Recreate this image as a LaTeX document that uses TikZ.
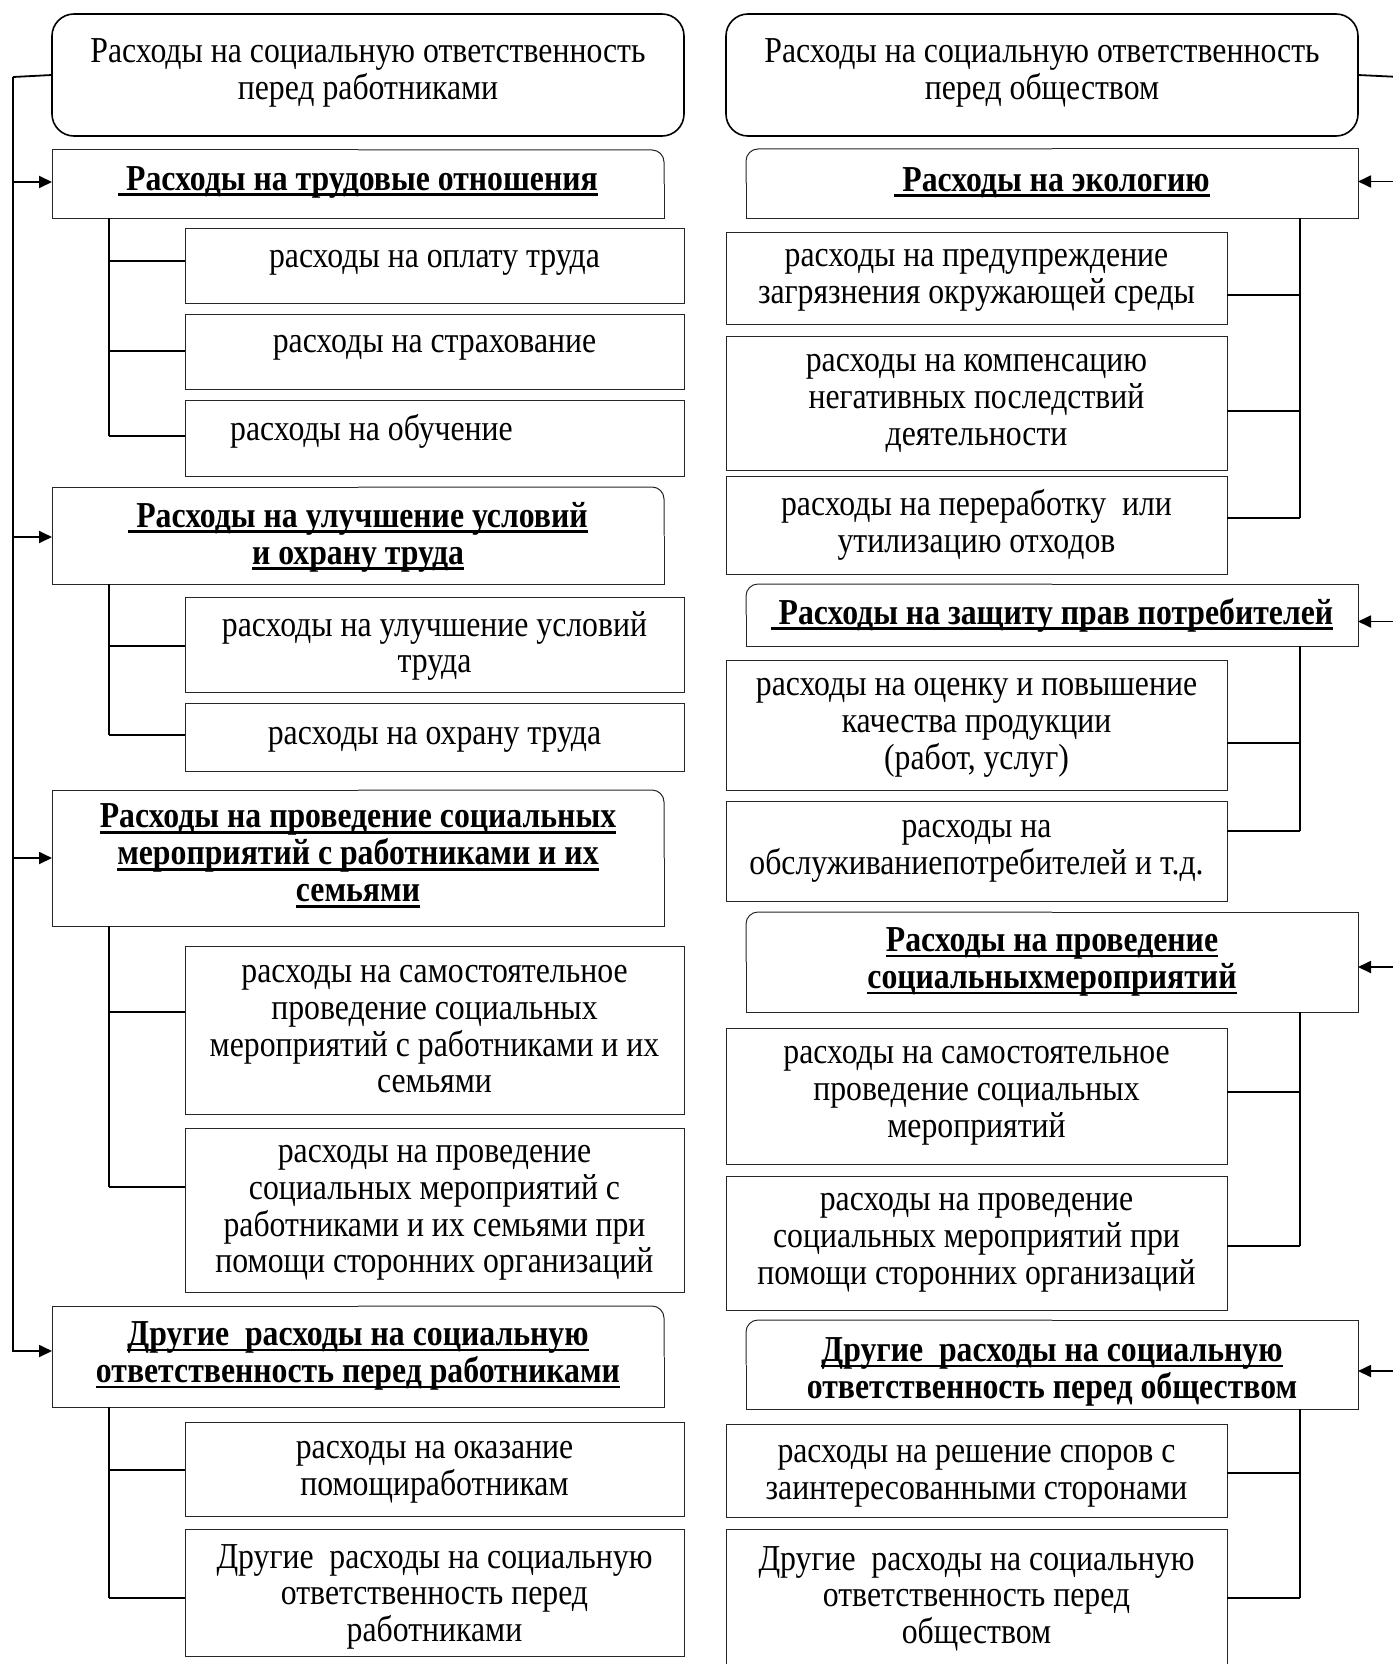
\documentclass[tikz,border=0pt]{standalone}
\usepackage{fontspec}
\setmainfont{Liberation Serif}[FakeStretch=0.87]
\usetikzlibrary{arrows.meta,calc}
\lineskiplimit=-100pt
\newcommand\myul[1]{\setbox0=\hbox{#1}\rlap{\rule[-6pt]{\wd0}{2.8pt}}\box0}
\tikzset{
  frame/.style={draw=black!85, line width=1pt, inner sep=0pt, outer sep=0pt},
  boxline/.style={draw=black!85, line width=1pt},
  txt/.style={align=center, inner sep=0pt,
    font=\fontsize{36.5pt}{36.8pt}\selectfont,
    execute at begin node=\rule{0pt}{24.5pt},
    execute at end node=\rule[-8pt]{0pt}{8pt}},
  htxt/.style={txt, font=\fontsize{36.5pt}{37pt}\selectfont\bfseries},
  conn/.style={line width=1.8pt, black},
  arr/.style={conn, -{Triangle[length=13pt,width=12pt]}},
}
% plain box: [opts]{name}{x1}{y1}{x2}{y2}{text y}{text}
\newcommand\bx[8][]{%
  \pgfmathsetmacro\bw{#5-#3}%
  \pgfmathsetmacro\bh{#6-#4}%
  \pgfmathsetmacro\cx{(#3+#5)/2}%
  \pgfmathsetmacro\cy{(#4+#6)/2}%
  \node[frame,minimum width=\bw pt,minimum height=\bh pt,#1] (#2) at (\cx,\cy) {};%
  \node[txt] (#2-t) at (\cx,#7) {#8};%
}
% header box, rounded top-right corner
\newcommand\hxl[7]{%
  \pgfmathsetmacro\bw{#4-#2}%
  \pgfmathsetmacro\bh{#5-#3}%
  \pgfmathsetmacro\cx{(#2+#4)/2}%
  \pgfmathsetmacro\cy{(#3+#5)/2}%
  \node[frame,draw=none,minimum width=\bw pt,minimum height=\bh pt] (#1) at (\cx,\cy) {};%
  \draw[boxline,rounded corners=12pt] (#1.north) -- (#1.north east) -- (#1.east);%
  \draw[boxline] (#1.north) -- (#1.north west) -- (#1.south west) -- (#1.south east) -- (#1.east);%
  \node[htxt] (#1-t) at (\cx,#6) {#7};%
}
% header box, rounded top-left corner
\newcommand\hxr[7]{%
  \pgfmathsetmacro\bw{#4-#2}%
  \pgfmathsetmacro\bh{#5-#3}%
  \pgfmathsetmacro\cx{(#2+#4)/2}%
  \pgfmathsetmacro\cy{(#3+#5)/2}%
  \node[frame,draw=none,minimum width=\bw pt,minimum height=\bh pt] (#1) at (\cx,\cy) {};%
  \draw[boxline,rounded corners=12pt] (#1.north) -- (#1.north west) -- (#1.west);%
  \draw[boxline] (#1.north) -- (#1.north east) -- (#1.south east) -- (#1.south west) -- (#1.west);%
  \node[htxt] (#1-t) at (\cx,#6) {#7};%
}
\begin{document}
\begin{tikzpicture}[x=1pt,y=-1pt]
\useasboundingbox (0,0) rectangle (1392,1664);
% ---------- top boxes
\bx[rounded corners=22pt,line width=1.6pt,draw=black]{top1}{52}{14}{684}{136}{73}{Расходы на социальную ответственность\\перед работниками}
\bx[rounded corners=22pt,line width=1.6pt,draw=black]{top2}{726}{14}{1358}{136}{73}{Расходы на социальную ответственность\\перед обществом}
% ---------- left headers
\hxl{h1}{52}{150}{664}{218}{182}{\myul{\ Расходы на трудовые отношения}}
\hxl{h2}{52}{487}{664}{584}{537}{\myul{\ Расходы на улучшение условий}\\\myul{и охрану труда}}
\hxl{h3}{52}{790}{664}{926}{857}{\myul{Расходы на проведение социальных}\\\myul{мероприятий с работниками и их}\\\myul{семьями}}
\hxl{h4}{52}{1306}{664}{1407}{1356}{\myul{Другие~~расходы на социальную}\\\myul{ответственность перед работниками}}
% ---------- left sub boxes
\bx{s1a}{185}{228}{684}{303}{259}{расходы на оплату труда}
\bx{s1b}{185}{314}{684}{389}{344}{расходы на страхование}
\node[frame,minimum width=499pt,minimum height=76pt] (s1c) at (434.5,438) {};
\node[txt,anchor=west] (s1c-t) at (230,431) {расходы на обучение};
\bx{s2a}{185}{597}{684}{692}{646}{расходы на улучшение условий\\труда}
\bx{s2b}{185}{703}{684}{771}{736}{расходы на охрану труда}
\bx{s3a}{185}{946}{684}{1114}{1033}{расходы на самостоятельное\\проведение социальных\\мероприятий с работниками и их\\семьями}
\bx{s3b}{185}{1128}{684}{1292}{1213}{расходы на проведение\\социальных мероприятий с\\работниками и их семьями при\\помощи сторонних организаций}
\bx{s4a}{185}{1422}{684}{1516}{1472}{расходы на оказание\\помощиработникам}
\bx{s4b}{185}{1529}{684}{1656}{1597}{Другие~~расходы на социальную\\ответственность перед\\работниками}
% ---------- right headers
\hxr{r1}{746}{149}{1358}{218}{183}{\myul{\ Расходы на экологию}}
\hxr{r2}{746}{584}{1358}{646}{615}{\myul{\ Расходы на защиту прав потребителей}}
\hxr{r3}{746}{912}{1358}{1012}{962}{\myul{Расходы на проведение}\\\myul{социальныхмероприятий}}
\hxr{r4}{746}{1320}{1358}{1409}{1372}{\myul{Другие~~расходы на социальную}\\ответственность перед обществом}
% ---------- right sub boxes
\bx{ra}{726}{232}{1227}{324}{280}{расходы на предупреждение\\загрязнения окружающей среды}
\bx{rb}{726}{336}{1227}{470}{404}{расходы на компенсацию\\негативных последствий\\деятельности}
\bx{rc}{726}{476}{1227}{574}{525}{расходы на переработку~~или\\утилизацию отходов}
\bx{r2a}{726}{660}{1227}{790}{728}{расходы на оценку и повышение\\качества продукции\\(работ, услуг)}
\bx{r2b}{726}{801}{1227}{901}{851}{расходы на\\обслуживаниепотребителей и т.д.}
\bx{r3a}{726}{1028}{1227}{1164}{1096}{расходы на самостоятельное\\проведение социальных\\мероприятий}
\bx{r3b}{726}{1176}{1227}{1310}{1243}{расходы на проведение\\социальных мероприятий при\\помощи сторонних организаций}
\bx{r4a}{726}{1424}{1227}{1517}{1476}{расходы на решение споров с\\заинтересованными сторонами}
\bx{r4b}{726}{1529}{1227}{1680}{1599}{Другие~~расходы на социальную\\ответственность перед\\обществом}
% ---------- left connectors
\coordinate (lt) at (13,77);
\draw[conn] (top1.west) -- (lt);
\draw[arr] (lt) |- ([yshift=2pt]h1.west);
\draw[arr] (lt) |- ([yshift=-1.5pt]h2.west);
\draw[arr] (lt) |- (h3.west);
\draw[arr] (lt) |- ([yshift=5.5pt]h4.west);
\coordinate (sx) at (109,0);
\coordinate (b1a) at (109,261);
\coordinate (b1b) at (109,351);
\coordinate (b1c) at (109,436);
\coordinate (b2a) at (109,646);
\coordinate (b2b) at (109,735);
\coordinate (b3a) at (109,1012);
\coordinate (b3b) at (109,1187);
\coordinate (b4a) at (109,1470);
\coordinate (b4b) at (109,1598);
\draw[conn] (sx |- h1.south) -- (b1c);
\draw[conn] (b1a) -- (b1a -| s1a.west);
\draw[conn] (b1b) -- (b1b -| s1b.west);
\draw[conn] (b1c) -- (b1c -| s1c.west);
\draw[conn] (sx |- h2.south) -- (b2b);
\draw[conn] (b2a) -- (b2a -| s2a.west);
\draw[conn] (b2b) -- (b2b -| s2b.west);
\draw[conn] (sx |- h3.south) -- (b3b);
\draw[conn] (b3a) -- (b3a -| s3a.west);
\draw[conn] (b3b) -- (b3b -| s3b.west);
\draw[conn] (sx |- h4.south) -- (b4b);
\draw[conn] (b4a) -- (b4a -| s4a.west);
\draw[conn] (b4b) -- (b4b -| s4b.west);
% ---------- right connectors
\coordinate (rt) at (1400,77);
\draw[conn] (top2.east) -- (rt);
\draw[arr] (rt) |- ([yshift=2pt]r1.east);
\draw[arr] (rt) |- ([yshift=-6.5pt]r2.east);
\draw[arr] (rt) |- ([yshift=-5pt]r3.east);
\draw[arr] (rt) |- ([yshift=-6.5pt]r4.east);
\coordinate (rx) at (1300,0);
\coordinate (c1a) at (1300,295);
\coordinate (c1b) at (1300,411);
\coordinate (c1c) at (1300,518);
\coordinate (c2a) at (1300,743);
\coordinate (c2b) at (1300,831);
\coordinate (c3a) at (1300,1092);
\coordinate (c3b) at (1300,1246);
\coordinate (c4a) at (1300,1473);
\coordinate (c4b) at (1300,1598);
\draw[conn] (rx |- r1.south) -- (c1c);
\draw[conn] (c1a) -- (c1a -| ra.east);
\draw[conn] (c1b) -- (c1b -| rb.east);
\draw[conn] (c1c) -- (c1c -| rc.east);
\draw[conn] (rx |- r2.south) -- (c2b);
\draw[conn] (c2a) -- (c2a -| r2a.east);
\draw[conn] (c2b) -- (c2b -| r2b.east);
\draw[conn] (rx |- r3.south) -- (c3b);
\draw[conn] (c3a) -- (c3a -| r3a.east);
\draw[conn] (c3b) -- (c3b -| r3b.east);
\draw[conn] (rx |- r4.south) -- (c4b);
\draw[conn] (c4a) -- (c4a -| r4a.east);
\draw[conn] (c4b) -- (c4b -| r4b.east);
\end{tikzpicture}
\end{document}
